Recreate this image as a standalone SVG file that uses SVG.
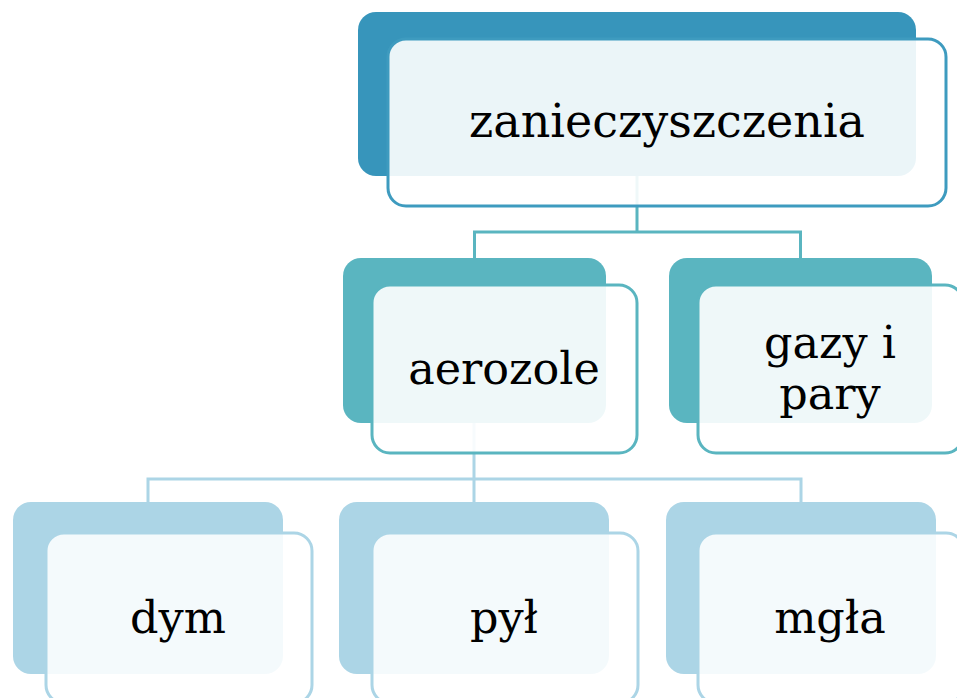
<svg xmlns="http://www.w3.org/2000/svg" width="957" height="698" viewBox="0 0 957 698">
<style>
.t{font-family:"DejaVu Serif","Liberation Serif",serif;font-size:44.5px;fill:#000;text-anchor:middle}
.tt{font-size:46px}
.b1{fill:#3795bb}
.f1{fill:#fff;fill-opacity:0.9;stroke:#3e9bbf;stroke-width:3}
.b2{fill:#5ab5c0}
.f2{fill:#fff;fill-opacity:0.9;stroke:#5ab5c0;stroke-width:3}
.b3{fill:#acd5e6}
.f3{fill:#fff;fill-opacity:0.87;stroke:#acd5e6;stroke-width:3}
.c2{fill:none;stroke:#5ab5c0;stroke-width:3}
.c3{fill:none;stroke:#acd5e6;stroke-width:3}
</style>
<rect width="957" height="698" fill="#fff"/>
<g id="connectors">
<path class="c2" d="M637,176 V232 M474.5,258 V232 H800.5 V258"/>
<path class="c3" d="M474,423 V479 M148,502 V479 H801 V502 M474,479 V502"/>
</g>
<g id="n-zanieczyszczenia">
<rect class="b1" x="358" y="12" width="558" height="164" rx="18"/>
<rect class="f1" x="388" y="39" width="558" height="167" rx="18"/>
<text class="t tt" x="667" y="137">zanieczyszczenia</text>
</g>
<g id="n-aerozole">
<rect class="b2" x="343" y="258" width="263" height="165" rx="18"/>
<rect class="f2" x="372" y="285" width="265" height="168" rx="18"/>
<text class="t" x="504" y="384">aerozole</text>
</g>
<g id="n-gazy">
<rect class="b2" x="669" y="258" width="263" height="165" rx="18"/>
<rect class="f2" x="698" y="285" width="265" height="168" rx="18"/>
<text class="t" x="830" y="358">gazy i</text>
<text class="t" x="830" y="409">pary</text>
</g>
<g id="n-dym">
<rect class="b3" x="13" y="502" width="270" height="172" rx="18"/>
<rect class="f3" x="46" y="533" width="266" height="170" rx="18"/>
<text class="t" x="178" y="633">dym</text>
</g>
<g id="n-pyl">
<rect class="b3" x="339" y="502" width="270" height="172" rx="18"/>
<rect class="f3" x="372" y="533" width="266" height="170" rx="18"/>
<text class="t" x="504" y="633">pył</text>
</g>
<g id="n-mgla">
<rect class="b3" x="666" y="502" width="270" height="172" rx="18"/>
<rect class="f3" x="698" y="533" width="266" height="170" rx="18"/>
<text class="t" x="830" y="633">mgła</text>
</g>
</svg>
